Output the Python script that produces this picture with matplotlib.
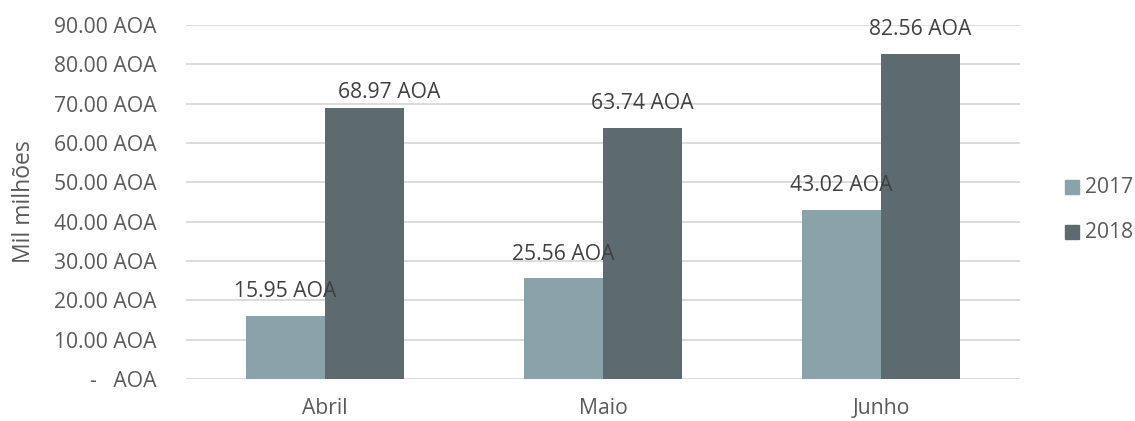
import matplotlib.pyplot as plt
from matplotlib.ticker import FuncFormatter, MultipleLocator
from matplotlib.patches import Rectangle

plt.rcParams['font.family'] = ['Open Sans', 'DejaVu Sans']

months = ['Abril', 'Maio', 'Junho']
series_names = ['2017', '2018']
vals_2017 = [15.95, 25.56, 43.02]
vals_2018 = [68.97, 63.74, 82.56]

col_2017 = '#8aa2a9'
col_2018 = '#5d6a6f'
text_col = '#595959'
grid_col = '#d9d9d9'
fs = 15.2

fig = plt.figure(figsize=(11.35, 4.21), dpi=100)
ax = fig.add_axes([186 / 1135, 42 / 421, 834 / 1135, 354 / 421])

w = 0.284
x = list(range(len(months)))
b1 = ax.bar([i - w / 2 for i in x], vals_2017, w, color=col_2017, zorder=2)
b2 = ax.bar([i + w / 2 for i in x], vals_2018, w, color=col_2018, zorder=2)

def fmt(v, pos):
    if abs(v) < 1e-9:
        return '-   AOA'
    return '%.2f AOA' % v

ax.set_ylim(0, 90)
ax.set_xlim(-0.5, 2.5)
ax.yaxis.set_major_locator(MultipleLocator(10))
ax.yaxis.set_major_formatter(FuncFormatter(fmt))
ax.grid(axis='y', color=grid_col, linewidth=1.3, zorder=0)
for s in ax.spines.values():
    s.set_visible(False)
ax.tick_params(length=0, labelsize=fs, colors=text_col)
ax.tick_params(axis='y', pad=21)
ax.tick_params(axis='x', pad=14)
ax.set_xticks(x)
ax.set_xticklabels(months)
ax.set_ylabel('Mil milhões', fontsize=16.5, color=text_col, labelpad=13)

# data labels (first 2018 label was nudged in the original)
for bars, vals in [(b1, vals_2017), (b2, vals_2018)]:
    for bar, v in zip(bars, vals):
        dx, dy = 0, 17.5
        if v == vals_2018[0]:
            dx, dy = 18, 11
        ax.annotate('%.2f AOA' % v, (bar.get_x() + bar.get_width() / 2, v),
                    xytext=(dx, dy), textcoords='offset points',
                    ha='center', va='center', fontsize=fs, color='#404040',
                    zorder=3)

# legend
for i, (name, col) in enumerate(zip(series_names, [col_2017, col_2018])):
    y = 187 + 45 * i
    fig.patches.append(Rectangle((1065 / 1135, (421 - y - 7) / 421), 14 / 1135, 14 / 421,
                                 transform=fig.transFigure, color=col))
    fig.text(1085 / 1135, (421 - y) / 421, name, fontsize=fs, color=text_col,
             va='center', ha='left')

fig.savefig('out.png', dpi=100)
